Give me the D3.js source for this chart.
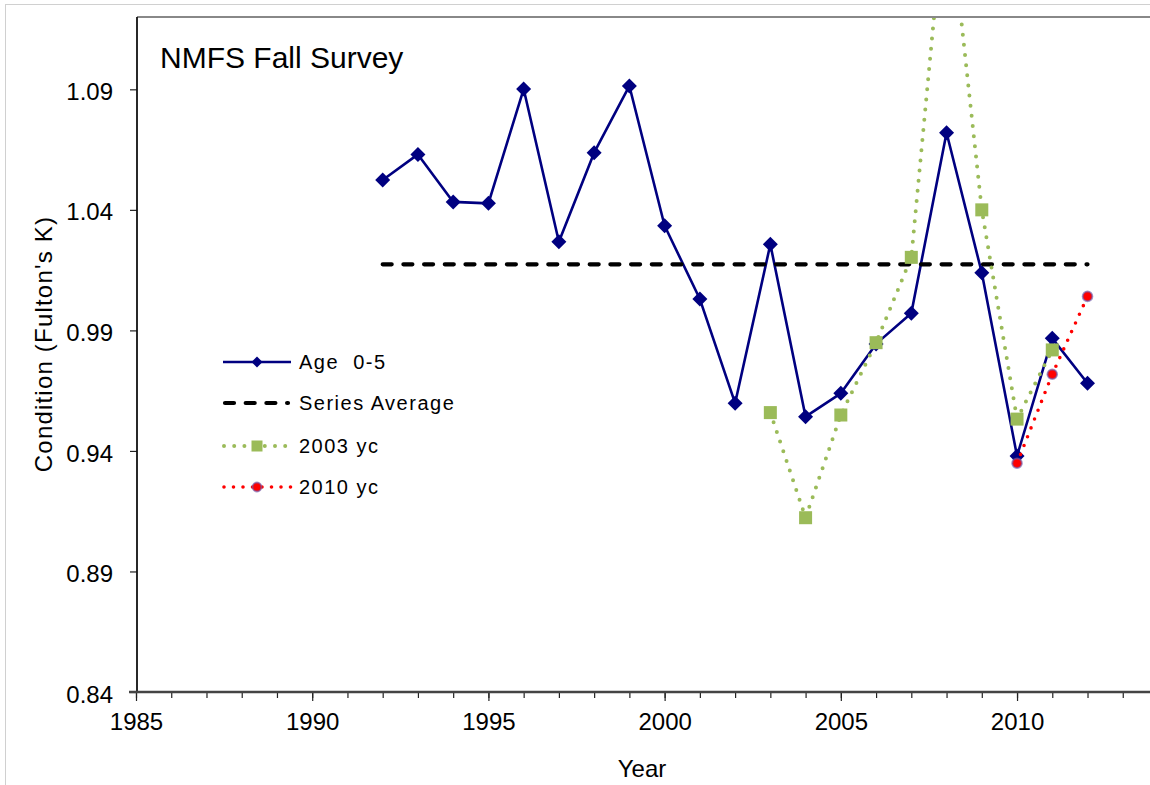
<!DOCTYPE html>
<html>
<head>
<meta charset="utf-8">
<script src="https://cdn.jsdelivr.net/npm/d3@7"></script>
<style>
  html, body { margin: 0; padding: 0; background: #fff; }
  svg { display: block; font-family: Arial, "Liberation Sans", sans-serif; }
</style>
</head>
<body>
<svg id="chart" width="1150" height="785"></svg>
<script>
// ---- data ----
const years = [1992,1993,1994,1995,1996,1997,1998,1999,2000,2001,2002,2003,2004,2005,2006,2007,2008,2009,2010,2011,2012];
const age05 = [1.0524,1.0630,1.0433,1.0427,1.0901,1.0268,1.0637,1.0914,1.0334,1.0030,0.9598,1.0257,0.9542,0.9639,0.9844,0.9971,1.0720,1.0139,0.9379,0.9867,0.9681];
const avgYears = [1992, 2012];
const seriesAverage = 1.0174;
const yc2003Years = [2003,2004,2005,2006,2007,2008,2009,2010,2011];
const yc2003 = [0.9559,0.9123,0.9549,0.9849,1.0203,1.175,1.040,0.9532,0.9819];
const yc2010Years = [2010,2011,2012];
const yc2010 = [0.9349,0.9718,1.0041];
const yTicks = [0.84,0.89,0.94,0.99,1.04,1.09];
const xMajorTicks = [1985,1990,1995,2000,2005,2010];
const xMinorTicks = d3.range(1985, 2014);
const legendLabels = ["Age  0-5", "Series Average", "2003 yc", "2010 yc"];
const title = "NMFS Fall Survey";
const yLabel = "Condition (Fulton's K)";
const xLabel = "Year";

// ---- layout ----
const svg = d3.select("#chart");
const L = 137, T = 17, B = 692, R = 1158;
const x = d3.scaleLinear().domain([1985, 2014]).range([136, R]);
const y = d3.scaleLinear().domain([0.84, 1.12]).range([B, T]);

const navy = "#000080", green = "#9BBB59", red = "#FF0000";

// outer frame
svg.append("rect").attr("x", 5.5).attr("y", 4.5).attr("width", 1160).attr("height", 800)
  .attr("fill", "#fff").attr("stroke", "#d0d0d0").attr("stroke-width", 1);

// clip
svg.append("defs").append("clipPath").attr("id", "plotclip")
  .append("rect").attr("x", L - 10).attr("y", T + 1).attr("width", R - L + 20).attr("height", B - T + 10);

// top border
svg.append("line").attr("x1", L).attr("x2", 1150).attr("y1", T).attr("y2", T)
  .attr("stroke", "#888").attr("stroke-width", 2);

// y axis
const yAxis = svg.append("g").attr("transform", `translate(${L},0)`)
  .call(d3.axisLeft(y).tickValues(yTicks).tickFormat(d3.format(".2f")).tickSize(7).tickPadding(17));
yAxis.select(".domain").remove();
yAxis.selectAll(".tick line").attr("stroke", "#222").attr("stroke-width", 1.2);
yAxis.selectAll(".tick text").attr("font-size", 24).attr("fill", "#000")
  .attr("font-family", 'Arial, "Liberation Sans", sans-serif').attr("dy", "0.42em");
svg.append("line").attr("x1", L).attr("x2", L).attr("y1", T).attr("y2", B)
  .attr("stroke", "#111").attr("stroke-width", 1.8);

// x axis: minor then major
const xMinor = svg.append("g").attr("transform", `translate(0,${B})`)
  .call(d3.axisBottom(x).tickValues(xMinorTicks).tickSize(6).tickFormat(""));
xMinor.select(".domain").remove();
xMinor.selectAll(".tick line").attr("stroke", "#222").attr("stroke-width", 1.2);
const xMajor = svg.append("g").attr("transform", `translate(0,${B})`)
  .call(d3.axisBottom(x).tickValues(xMajorTicks).tickSize(9).tickFormat(d3.format("d")));
xMajor.select(".domain").remove();
xMajor.selectAll(".tick line").attr("stroke", "#222").attr("stroke-width", 1.2);
xMajor.selectAll(".tick text").attr("font-size", 24).attr("fill", "#000")
  .attr("font-family", 'Arial, "Liberation Sans", sans-serif').attr("y", 38).attr("dy", 0);
svg.append("line").attr("x1", L - 8).attr("x2", 1150).attr("y1", B).attr("y2", B)
  .attr("stroke", "#444").attr("stroke-width", 2.5);

// axis titles
svg.append("text").attr("x", 642).attr("y", 777).attr("text-anchor", "middle")
  .attr("font-size", 24).attr("fill", "#000").text(xLabel);
svg.append("text").attr("transform", "translate(52,344) rotate(-90)").attr("text-anchor", "middle")
  .attr("font-size", 24).attr("letter-spacing", 1.2).attr("fill", "#000").text(yLabel);

// title
svg.append("text").attr("x", 160).attr("y", 68).attr("font-size", 30).attr("fill", "#000").text(title);

// ---- series ----
const plot = svg.append("g").attr("clip-path", "url(#plotclip)");
const line = d3.line().x(d => x(d[0])).y(d => y(d[1]));
const diamond = s => `M0,${-s}L${s},0L0,${s}L${-s},0Z`;

// Age 0-5
const ageData = years.map((yr, i) => [yr, age05[i]]);
plot.append("path").datum(ageData).attr("d", line).attr("fill", "none")
  .attr("stroke", navy).attr("stroke-width", 2.6).attr("stroke-linejoin", "round");
plot.selectAll(".dia").data(ageData).join("path").attr("class", "dia")
  .attr("transform", d => `translate(${x(d[0])},${y(d[1])})`).attr("d", diamond(7.5)).attr("fill", navy);

// Series Average
plot.append("path").datum(avgYears.map(yr => [yr, seriesAverage])).attr("d", line)
  .attr("fill", "none").attr("stroke", "#000").attr("stroke-width", 4.2)
  .attr("stroke-dasharray", "9 11.7").attr("stroke-linecap", "round");

// 2003 yc
const g03 = yc2003Years.map((yr, i) => [yr, yc2003[i]]);
plot.append("path").datum(g03).attr("d", line).attr("fill", "none")
  .attr("stroke", green).attr("stroke-width", 4).attr("stroke-dasharray", "0 10.2").attr("stroke-linecap", "round");
plot.selectAll(".sq").data(g03).join("rect").attr("class", "sq")
  .attr("x", d => x(d[0]) - 6.5).attr("y", d => y(d[1]) - 6.5).attr("width", 13).attr("height", 13)
  .attr("fill", green);

// 2010 yc
const r10 = yc2010Years.map((yr, i) => [yr, yc2010[i]]);
plot.append("path").datum(r10).attr("d", line).attr("fill", "none")
  .attr("stroke", red).attr("stroke-width", 3.6).attr("stroke-dasharray", "0 9.5").attr("stroke-linecap", "round");
plot.selectAll(".ci").data(r10).join("circle").attr("class", "ci")
  .attr("cx", d => x(d[0])).attr("cy", d => y(d[1])).attr("r", 4.8)
  .attr("fill", red).attr("stroke", "rgba(110,90,170,0.65)").attr("stroke-width", 2);

// ---- legend ----
const legY = [362, 403, 446, 487];
const lx1 = 223, lx2 = 291, lmid = 257, ltx = 299;
const leg = svg.append("g");
leg.append("line").attr("x1", lx1).attr("x2", lx2).attr("y1", legY[0]).attr("y2", legY[0])
  .attr("stroke", navy).attr("stroke-width", 2.6);
leg.append("path").attr("transform", `translate(${lmid},${legY[0]})`).attr("d", diamond(5.5)).attr("fill", navy);
leg.append("line").attr("x1", lx1 + 2).attr("x2", lx2 - 3).attr("y1", legY[1]).attr("y2", legY[1])
  .attr("stroke", "#000").attr("stroke-width", 4.2).attr("stroke-dasharray", "9 11.7").attr("stroke-linecap", "round");
leg.append("line").attr("x1", lx1 + 1).attr("x2", lx2).attr("y1", legY[2]).attr("y2", legY[2])
  .attr("stroke", green).attr("stroke-width", 4).attr("stroke-dasharray", "0 10.2").attr("stroke-linecap", "round");
leg.append("rect").attr("x", lmid - 5.5).attr("y", legY[2] - 5.5).attr("width", 11).attr("height", 11).attr("fill", green);
leg.append("line").attr("x1", lx1 + 1).attr("x2", lx2).attr("y1", legY[3]).attr("y2", legY[3])
  .attr("stroke", red).attr("stroke-width", 3.6).attr("stroke-dasharray", "0 9.5").attr("stroke-linecap", "round");
leg.append("circle").attr("cx", lmid).attr("cy", legY[3]).attr("r", 4.5)
  .attr("fill", red).attr("stroke", "rgba(110,90,170,0.65)").attr("stroke-width", 1.8);
leg.selectAll(".lt").data(legendLabels).join("text").attr("class", "lt")
  .attr("x", ltx).attr("y", (d, i) => legY[i] + 6.5)
  .attr("font-size", 20).attr("letter-spacing", 1.5).attr("fill", "#000")
  .style("white-space", "pre").text(d => d);
</script>
</body>
</html>
